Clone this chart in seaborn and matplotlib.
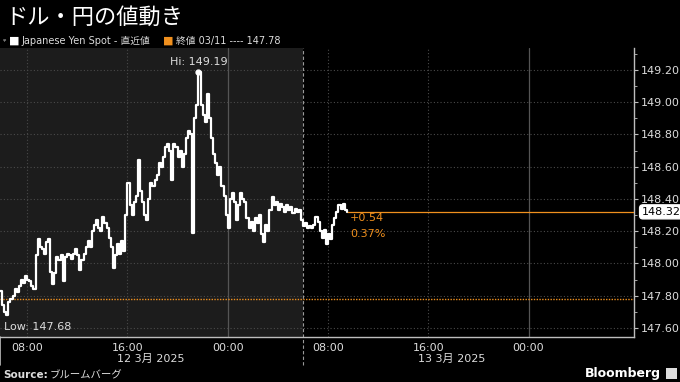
import numpy as np
import pandas as pd
import matplotlib
matplotlib.use("Agg")
import matplotlib.pyplot as plt
import matplotlib.dates as mdates
import matplotlib.ticker as mticker
import matplotlib.transforms as mtransforms
from matplotlib.patches import Rectangle
import seaborn as sns

# ---------------- data ----------------
title = "ドル・円の値動き"
series_label = "Japanese Yen Spot - 直近値"
close_label = "終値 03/11 ---- 147.78"
prev_close = 147.78
last_price = 148.32
change_abs = "+0.54"
change_pct = "0.37%"
hi_label = "Hi: 149.19"
low_label = "Low: 147.68"
date_labels = ["12 3月 2025", "13 3月 2025"]
source_text = "ブルームバーグ"
start_time = "2025-03-12 05:50"
step = "10min"
y_ticks = [147.60, 147.80, 148.00, 148.20, 148.40, 148.60, 148.80, 149.00, 149.20]
x_tick_times = ["2025-03-12 08:00", "2025-03-12 16:00", "2025-03-13 00:00",
                "2025-03-13 08:00", "2025-03-13 16:00", "2025-03-14 00:00"]

prices = [
    147.83, 147.74, 147.70, 147.68, 147.76, 147.78,
    147.80, 147.84, 147.82, 147.86, 147.90, 147.88,
    147.92, 147.90, 147.89, 147.86, 147.84, 148.05,
    148.15, 148.10, 148.09, 148.06, 148.13, 148.15,
    147.95, 147.87, 147.94, 148.04, 148.02, 148.05,
    147.89, 148.04, 148.06, 148.05, 148.03, 148.06,
    148.09, 148.05, 147.96, 148.02, 148.06, 148.10,
    148.14, 148.10, 148.20, 148.24, 148.27, 148.22,
    148.20, 148.29, 148.25, 148.22, 148.16, 148.10,
    147.97, 148.05, 148.12, 148.06, 148.14, 148.08,
    148.30, 148.50, 148.36, 148.30, 148.38, 148.42,
    148.64, 148.45, 148.38, 148.30, 148.27, 148.40,
    148.50, 148.48, 148.52, 148.55, 148.62, 148.60,
    148.66, 148.72, 148.74, 148.70, 148.52, 148.74,
    148.72, 148.66, 148.70, 148.60, 148.68, 148.78,
    148.82, 148.80, 148.19, 148.90, 148.98, 149.19,
    148.98, 148.92, 148.88, 149.05, 148.90, 148.78,
    148.68, 148.62, 148.55, 148.60, 148.48, 148.42,
    148.30, 148.22, 148.40, 148.44, 148.38, 148.27,
    148.36, 148.44, 148.40, 148.38, 148.28, 148.22,
    148.26, 148.20, 148.28, 148.25, 148.30, 148.18,
    148.13, 148.24, 148.20, 148.33, 148.41, 148.36,
    148.38, 148.33, 148.37, 148.35, 148.32, 148.36,
    148.33, 148.35, 148.31, 148.34, 148.32, 148.33,
    148.27, 148.23, 148.25, 148.22, 148.23, 148.22,
    148.24, 148.29, 148.26, 148.20, 148.16, 148.21,
    148.12, 148.18, 148.15, 148.24, 148.28, 148.32,
    148.36, 148.34, 148.37, 148.33, 148.32,
]

x_start = pd.Timestamp("2025-03-12 05:50")
x_end = pd.Timestamp("2025-03-14 08:25")
shade_end = pd.Timestamp("2025-03-13 06:00")

times = pd.date_range(start_time, periods=len(prices), freq=step)
df = pd.DataFrame({"time": times, "price": prices})

# ---------------- style ----------------
sns.set_theme(style="dark")
plt.rcParams["font.family"] = ["DejaVu Sans", "Noto Sans CJK JP"]
plt.rcParams["axes.unicode_minus"] = False

ORANGE = "#f0901e"
GRID = "#4a4a4a"
TXT = "#dcdcdc"
AXC = "#bdbdbd"

fig = plt.figure(figsize=(6.8, 3.82), dpi=100, facecolor="black")
ax = fig.add_axes([0.0, 1 - 337 / 382, 634 / 680, (337 - 48) / 382])
ax.set_facecolor("black")

ax.axvspan(x_start, shade_end, color="#1c1c1c", zorder=0, lw=0)

sns.lineplot(data=df, x="time", y="price", color="white", linewidth=1.6,
             drawstyle="steps-post", ax=ax, zorder=5)

ax.set_xlim(x_start, x_end)
ax.set_ylim(147.544, 149.336)

# axes
for s in ["left", "top"]:
    ax.spines[s].set_visible(False)
for s in ["right", "bottom"]:
    ax.spines[s].set_color(AXC)
    ax.spines[s].set_linewidth(1.0)

ax.yaxis.tick_right()
ax.set_yticks(y_ticks)
ax.yaxis.set_major_formatter(mticker.FormatStrFormatter("%.2f"))
ax.yaxis.set_minor_locator(mticker.MultipleLocator(0.1))
ax.tick_params(axis="y", which="major", colors=AXC, labelcolor=TXT,
               labelsize=8, direction="out", length=3, width=0.8, pad=2)
ax.tick_params(axis="y", which="minor", colors=AXC, direction="out",
               length=2, width=0.6)

xt = pd.to_datetime(x_tick_times)
ax.set_xticks(xt)
ax.xaxis.set_major_formatter(mdates.DateFormatter("%H:%M"))
ax.xaxis.set_minor_locator(mdates.HourLocator(byhour=[4, 12, 20]))
ax.tick_params(axis="x", which="major", colors=AXC, labelcolor=TXT,
               labelsize=8, direction="inout", length=6, width=0.8, pad=1)
ax.tick_params(axis="x", which="minor", colors=AXC, direction="in",
               length=3, width=0.6)
ax.set_xlabel("")
ax.set_ylabel("")

# grid
ax.grid(False)
for yv in y_ticks:
    ax.axhline(yv, color=GRID, lw=0.8, ls=(0, (1, 2)), zorder=1)
for t in xt:
    if t.hour == 0:
        ax.axvline(t, color="#555555", lw=0.9, zorder=1)
    else:
        ax.axvline(t, color=GRID, lw=0.8, ls=(0, (1, 2)), zorder=1)

# day separators
ax.axvline(shade_end, ymin=-0.097, ymax=1, clip_on=False, color="#9a9a9a",
           lw=0.8, ls=(0, (3, 2)), zorder=2)
ax.axvline(x_start, ymin=-0.097, ymax=0, clip_on=False, color=AXC, lw=1.2)

# previous close line
ax.axhline(prev_close, color=ORANGE, lw=1.0, ls=(0, (1, 1)), zorder=3)

# last price line + label
last_t = df["time"].iloc[-1]
ax.hlines(last_price, last_t, x_end, color=ORANGE, lw=0.9, zorder=3)
ytr = mtransforms.blended_transform_factory(ax.transAxes, ax.transData)
ax.text(1.012, last_price, f"{last_price:.2f}", transform=ytr, fontsize=8,
        color="black", va="center", ha="left", zorder=10, clip_on=False,
        bbox=dict(boxstyle="round,pad=0.18,rounding_size=0.3", fc="white",
                  ec="white"))

ax.annotate(change_abs, (last_t, last_price), xytext=(3, -6),
            textcoords="offset pixels", color=ORANGE, fontsize=8,
            ha="left", va="center")
ax.annotate(change_pct, (last_t, last_price), xytext=(3, -22),
            textcoords="offset pixels", color=ORANGE, fontsize=8,
            ha="left", va="center")

# hi / low
i_hi = int(np.argmax(prices))
i_lo = int(np.argmin(prices))
ax.plot(df["time"].iloc[i_hi], prices[i_hi], "o", ms=3.5, color="white", zorder=6)
ax.annotate(hi_label, (df["time"].iloc[i_hi], prices[i_hi]), xytext=(0, 5),
            textcoords="offset pixels", color=TXT, fontsize=8,
            ha="center", va="bottom")
ax.annotate(low_label, (df["time"].iloc[i_lo], prices[i_lo]), xytext=(-2, -7),
            textcoords="offset pixels", color=TXT, fontsize=8,
            ha="left", va="top")

# date labels under the axis
xtr = mtransforms.blended_transform_factory(ax.transData, ax.transAxes)
for lbl, day in zip(date_labels, ["2025-03-12", "2025-03-13"]):
    ax.text(pd.Timestamp(day + " 17:50"), -0.076, lbl, transform=xtr,
            fontsize=8, color=TXT, ha="center", va="center", clip_on=False)

# title & legend
fig.text(5 / 680, 1 - 17 / 382, title, fontsize=16, color="white",
         va="center", ha="left", family=["Noto Sans CJK JP"])
fig.text(3 / 680, 1 - 41 / 382, "ᵠ", fontsize=6, color="#aaaaaa",
         va="center", ha="left")
fig.text(9 / 680, 1 - 41 / 382, "■", fontsize=8, color="white",
         va="center", ha="left")
fig.text(21 / 680, 1 - 41 / 382, series_label, fontsize=7, color=TXT,
         va="center", ha="left")
fig.text(163 / 680, 1 - 41 / 382, "■", fontsize=8, color=ORANGE,
         va="center", ha="left")
fig.text(176 / 680, 1 - 41 / 382, close_label, fontsize=7, color=TXT,
         va="center", ha="left")

# footer
fig.text(3 / 680, 1 - 375 / 382, "Source:", fontsize=7.5, color=TXT,
         fontweight="bold", va="center", ha="left")
fig.text(50 / 680, 1 - 375 / 382, source_text, fontsize=7.5, color=TXT,
         va="center", ha="left", family=["Noto Sans CJK JP"])
fig.text(661 / 680, 1 - 373 / 382, "Bloomberg", fontsize=9, color="white",
         fontweight="bold", va="center", ha="right")
fig.patches.append(Rectangle((666 / 680, 1 - 379 / 382), 11 / 680, 11 / 382,
                             transform=fig.transFigure, fc="#dddddd",
                             ec="none"))

fig.savefig("out.png", dpi=100, facecolor="black")
